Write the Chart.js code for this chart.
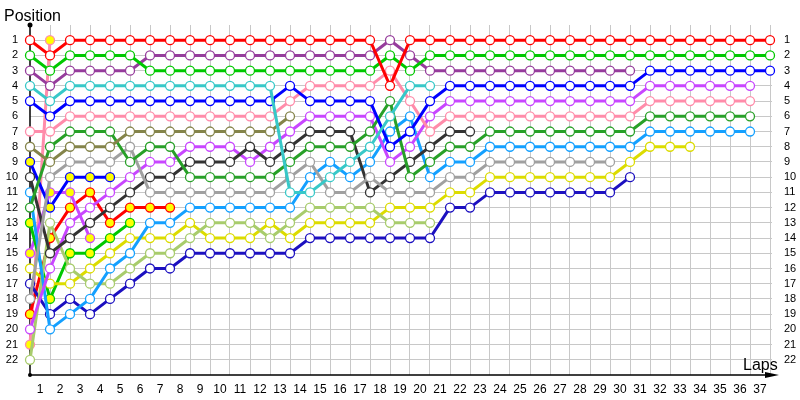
<!DOCTYPE html>
<html lang="en">
<head>
    <meta charset="UTF-8">
    <title>Lap Chart</title>
    <script src="https://cdn.jsdelivr.net/npm/chart.js"></script>
    <style>
        html, body { margin: 0; padding: 0; background: #fff; }
        canvas { display: block; }
    </style>
</head>
<body>
    <canvas id="lapChart" width="800" height="400"></canvas>

    <script>
        // position of each driver per lap, index 0 = starting grid
        const red     = [1,2,1,1,1,1,1,1,1,1,1,1,1,1,1,1,1,1,4,1,1,1,1,1,1,1,1,1,1,1,1,1,1,1,1,1,1,1];
        const green   = [2,3,2,2,2,2,3,3,3,3,3,3,3,3,3,3,3,3,2,3,2,2,2,2,2,2,2,2,2,2,2,2,2,2,2,2,2,2];
        const purple  = [3,4,3,3,3,3,2,2,2,2,2,2,2,2,2,2,2,2,1,2,3,3,3,3,3,3,3,3,3,3,3];
        const teal    = [4,5,4,4,4,4,4,4,4,4,4,4,4,11,11,10,9,8,6,4,4];
        const blue    = [5,6,5,5,5,5,5,5,5,5,5,5,5,4,5,5,5,5,8,7,5,4,4,4,4,4,4,4,4,4,4,3,3,3,3,3,3,3];
        const pink    = [7,7,6,6,6,6,6,6,6,6,6,6,6,5,4,4,4,4,3,5,7,6,6,6,6,6,6,6,6,6,6,5,5,5,5,5,5];
        const olive   = [8,9,8,8,8,7,7,7,7,7,7,7,7,6];
        const forest  = [12,8,7,7,7,9,8,8,10,10,10,10,10,9,8,8,8,7,5,10,9,8,8,7,7,7,7,7,7,7,7,6,6,6,6,6,6];
        const gray    = [18,10,9,9,9,8,11,11,11,11,11,11,11,10,9,11,11,10,11,11,11,10,10,9,9,9,9,9,9,9];
        const black   = [10,15,14,13,12,11,10,10,9,9,9,8,9,8,7,7,7,11,10,9,8,7,7];
        const violet  = [20,16,13,12,11,10,9,9,8,8,8,9,8,7,6,6,6,6,9,8,6,5,5,5,5,5,5,5,5,5,5,4,4,4,4,4,4];
        const sky     = [11,20,19,18,16,15,13,13,12,12,12,12,12,12,10,9,10,9,7,6,10,9,9,8,8,8,8,8,8,8,8,7,7,7,7,7,7];
        const lime    = [22,13,16,17,17,16,15,15,14,13,13,13,14,13,12,12,12,12,13,13,13];
        const yellow  = [16,17,17,16,15,14,14,14,13,14,14,14,13,14,13,13,13,13,12,12,12,11,11,10,10,10,10,10,10,10,9,8,8,8];
        const navy    = [17,19,18,19,18,17,16,16,15,15,15,15,15,15,14,14,14,14,14,14,14,12,12,11,11,11,11,11,11,11,10];
        // second drivers (yellow markers)
        const pink2   = [21,1];
        const blue2   = [9,12,10,10,10];
        const green2  = [13,18,15,15,14,13];
        const violet2 = [15,11,11,14];
        const red2    = [19,14,12,11,13,12,12,12];

        const series = [
            [red, '#ff0000', '#ffffff'],
            [green, '#00c800', '#ffffff'],
            [purple, '#963c9c', '#ffffff'],
            [teal, '#38c8c8', '#ffffff'],
            [blue, '#0000ff', '#ffffff'],
            [pink, '#ff8caa', '#ffffff'],
            [olive, '#84844a', '#ffffff'],
            [forest, '#28a028', '#ffffff'],
            [gray, '#a0a0a0', '#ffffff'],
            [black, '#333333', '#ffffff'],
            [violet, '#c846ff', '#ffffff'],
            [sky, '#14a0ff', '#ffffff'],
            [lime, '#a8cc6c', '#ffffff'],
            [yellow, '#dcdc00', '#ffffff'],
            [navy, '#1c10c0', '#ffffff'],
            [blue2, '#0000ff', '#ffff00'],
            [green2, '#00c800', '#ffff00'],
            [violet2, '#c846ff', '#ffff00'],
            [red2, '#ff0000', '#ffff00'],
            [pink2, '#ff8caa', '#ffff00']
        ];

        const tickFont = { family: 'Liberation Sans', size: 11 };

        // axes, arrow and axis titles
        const decor = {
            id: 'decor',
            beforeDatasetsDraw(chart) {
                const { ctx, chartArea: a } = chart;
                ctx.save();
                ctx.strokeStyle = '#000';
                ctx.fillStyle = '#000';
                ctx.lineWidth = 1.5;
                ctx.beginPath();
                ctx.moveTo(a.left, a.top);
                ctx.lineTo(a.left, a.bottom);
                ctx.lineTo(a.right + 2, a.bottom);
                ctx.stroke();
                ctx.beginPath();
                ctx.moveTo(a.right + 7, a.bottom);
                ctx.lineTo(a.right - 7, a.bottom - 3);
                ctx.lineTo(a.right - 7, a.bottom + 3);
                ctx.closePath();
                ctx.fill();
                ctx.beginPath();
                ctx.arc(a.left, a.top, 2.5, 0, Math.PI * 2);
                ctx.fill();
                ctx.beginPath();
                ctx.arc(a.left, a.bottom, 2, 0, Math.PI * 2);
                ctx.fill();
                ctx.restore();
            },
            afterDraw(chart) {
                const ctx = chart.ctx;
                ctx.save();
                ctx.fillStyle = '#000';
                ctx.font = '16px "Liberation Sans"';
                ctx.textBaseline = 'alphabetic';
                ctx.fillText('Position', 4, 21);
                ctx.fillText('Laps', 743, 370);
                ctx.restore();
            }
        };

        const ctx = document.getElementById('lapChart').getContext('2d');
        const lapChart = new Chart(ctx, {
            type: 'line',
            data: {
                datasets: series.map(([pos, color, fill]) => ({
                    data: pos.map((p, lap) => ({ x: lap, y: p })),
                    borderColor: color,
                    backgroundColor: fill,
                    pointBackgroundColor: fill,
                    pointBorderColor: color,
                    pointRadius: 4.5,
                    pointBorderWidth: 1.3,
                    borderWidth: 3,
                    tension: 0,
                    clip: false,
                    yAxisID: 'y'
                }))
            },
            options: {
                responsive: false,
                animation: false,
                events: [],
                layout: { padding: { top: 25 } },
                plugins: { legend: { display: false }, tooltip: { enabled: false } },
                scales: {
                    x: {
                        type: 'linear', min: 0, max: 37.1,
                        afterFit: s => { s.height = 25; },
                        border: { display: false },
                        grid: { drawTicks: false, color: c => (c.tick && c.tick.value >= 1) ? '#c8c8c8' : 'rgba(0,0,0,0)' },
                        ticks: {
                            stepSize: 1, includeBounds: false, autoSkip: false, maxRotation: 0,
                            labelOffset: -10, padding: 7, color: '#000',
                            font: { family: 'Liberation Sans', size: 12 },
                            callback: v => v >= 1 ? v : ''
                        }
                    },
                    y: {
                        type: 'linear', reverse: true, min: 0, max: 23, position: 'left',
                        afterFit: s => { s.width = 30; },
                        border: { display: false },
                        grid: { drawTicks: false, color: c => (c.tick && c.tick.value >= 1 && c.tick.value <= 22) ? '#c8c8c8' : 'rgba(0,0,0,0)' },
                        ticks: {
                            stepSize: 1, autoSkip: false, padding: 12, color: '#000', font: tickFont,
                            callback: v => (v >= 1 && v <= 22) ? v : ''
                        }
                    },
                    y2: {
                        type: 'linear', reverse: true, min: 0, max: 23, position: 'right',
                        afterFit: s => { s.width = 28; },
                        border: { display: false },
                        grid: { display: false },
                        ticks: {
                            stepSize: 1, autoSkip: false, padding: 4, color: '#000', font: tickFont,
                            callback: v => (v >= 1 && v <= 22) ? v : ''
                        }
                    }
                }
            },
            plugins: [decor]
        });
    </script>
</body>
</html>
